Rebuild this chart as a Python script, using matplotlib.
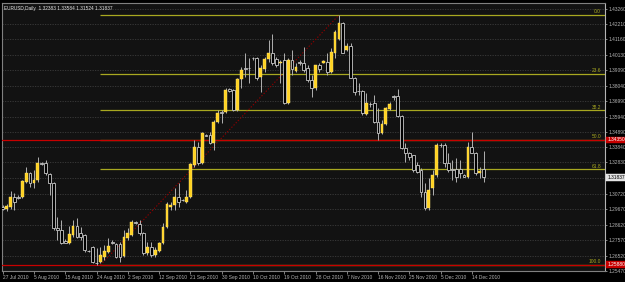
import matplotlib
matplotlib.use("Agg")
import matplotlib.pyplot as plt
import matplotlib.transforms as mtransforms

# ---------------- data ----------------
opens = [1.2981,1.2967,1.2981,1.3049,1.3049,1.3049,1.3150,1.3211,1.3144,1.3164,
         1.3279,1.3279,1.3204,1.3144,1.2839,1.2825,1.2751,1.2737,1.2791,1.2852,
         1.2805,1.2791,1.2683,1.2710,1.2604,1.2608,1.2642,1.2676,1.2744,1.2730,
         1.2730,1.2649,1.2771,1.2791,1.2879,1.2866,1.2805,1.2669,1.2710,1.2656,
         1.2683,1.2737,1.2845,1.2981,1.2994,1.3049,1.3028,1.3015,1.3049,1.3265,
         1.3387,1.3279,1.3469,1.3469,1.3415,1.3557,1.3624,1.3624,1.3780,1.3774,
         1.3638,1.3848,1.3923,1.3923,1.3991,1.3991,1.3862,1.3916,1.3984,1.4024,
         1.3984,1.3957,1.3977,1.3685,1.3977,1.3902,1.3963,1.3957,1.3923,1.3841,
         1.3787,1.3943,1.3957,1.3963,1.3896,1.4024,1.4119,1.4228,1.4045,1.4072,
         1.3855,1.3767,1.3767,1.3611,1.3679,1.3685,1.3557,1.3482,1.3543,1.3645,
         1.3733,1.3733,1.3597,1.3381,1.3347,1.3333,1.3265,1.3232,1.3083,1.2974,
         1.3110,1.3198,1.3401,1.3401,1.3279,1.3238,1.3238,1.3238,1.3198,1.3184,
         1.3387,1.3347,1.3211,1.32383]
highs = [1.2994,1.3001,1.3089,1.3076,1.3062,1.3164,1.3252,1.3218,1.3232,1.3320,
         1.3286,1.3299,1.3211,1.3150,1.2913,1.2893,1.2764,1.2852,1.2893,1.2906,
         1.2845,1.2798,1.2690,1.2715,1.2703,1.2710,1.2724,1.2771,1.2757,1.2737,
         1.2744,1.2825,1.2839,1.2893,1.2886,1.2893,1.2810,1.2744,1.2744,1.2710,
         1.2744,1.2873,1.3015,1.3015,1.3110,1.3144,1.3035,1.3096,1.3279,1.3435,
         1.3421,1.3486,1.3475,1.3489,1.3570,1.3638,1.3638,1.3787,1.3785,1.3780,
         1.3855,1.3930,1.4024,1.3991,1.3997,1.3997,1.3943,1.3997,1.4113,1.4153,
         1.3997,1.3977,1.4024,1.3991,1.4045,1.3957,1.3977,1.4065,1.3943,1.3875,
         1.3943,1.3957,1.3977,1.4024,1.4058,1.4180,1.4282,1.4235,1.4092,1.4092,
         1.3862,1.3821,1.3774,1.3753,1.3692,1.3740,1.3652,1.3570,1.3658,1.3692,
         1.3740,1.3780,1.3604,1.3415,1.3354,1.3336,1.3286,1.3245,1.3144,1.3177,
         1.3232,1.3415,1.3415,1.3415,1.3347,1.3299,1.3313,1.3299,1.3204,1.3421,
         1.3489,1.3354,1.3252,1.33584]
lows = [1.2961,1.2954,1.2967,1.2961,1.3035,1.3042,1.3144,1.3116,1.3110,1.3150,
        1.3265,1.3198,1.3062,1.2825,1.2757,1.2730,1.2737,1.2730,1.2778,1.2771,
        1.2757,1.2676,1.2676,1.2602,1.2588,1.2602,1.2622,1.2669,1.2730,1.2635,
        1.2608,1.2642,1.2757,1.2784,1.2866,1.2791,1.2656,1.2656,1.2642,1.2642,
        1.2676,1.2733,1.2839,1.2961,1.2961,1.2981,1.3022,1.3008,1.3042,1.3252,
        1.3265,1.3275,1.3460,1.3410,1.3367,1.3550,1.3550,1.3618,1.3760,1.3631,
        1.3631,1.3787,1.3862,1.3821,1.3977,1.3841,1.3760,1.3896,1.3963,1.3943,
        1.3930,1.3821,1.3680,1.3680,1.3875,1.3896,1.3943,1.3896,1.3828,1.3726,
        1.3774,1.3896,1.3955,1.3875,1.3889,1.3991,1.4113,1.4024,1.4038,1.3855,
        1.3740,1.3740,1.3604,1.3604,1.3658,1.3550,1.3435,1.3478,1.3536,1.3638,
        1.3706,1.3591,1.3374,1.3286,1.3299,1.3218,1.3211,1.3049,1.2961,1.2961,
        1.3062,1.3184,1.3387,1.3252,1.3218,1.3164,1.3150,1.3177,1.3184,1.3177,
        1.3347,1.3198,1.3177,1.31524]
closes = [1.2967,1.2988,1.3049,1.3015,1.3042,1.3157,1.3211,1.3144,1.3164,1.3279,
          1.3272,1.3211,1.3144,1.2839,1.2825,1.2737,1.2740,1.2798,1.2852,1.2778,
          1.2778,1.2690,1.2680,1.2608,1.2600,1.2656,1.2683,1.2717,1.2737,1.2642,
          1.2642,1.2778,1.2805,1.2879,1.2873,1.2805,1.2669,1.2710,1.2656,1.2690,
          1.2737,1.2845,1.3001,1.2994,1.3049,1.3015,1.3025,1.3049,1.3272,1.3387,
          1.3279,1.3482,1.3465,1.3415,1.3557,1.3618,1.3616,1.3774,1.3767,1.3638,
          1.3848,1.3909,1.3916,1.3920,1.3988,1.3855,1.3923,1.3984,1.4024,1.3957,
          1.3943,1.3963,1.3685,1.3977,1.3916,1.3930,1.3957,1.3909,1.3841,1.3787,
          1.3943,1.3916,1.3970,1.3896,1.4031,1.4167,1.4228,1.4024,1.4072,1.3858,
          1.3760,1.3764,1.3618,1.3685,1.3676,1.3557,1.3482,1.3543,1.3652,1.3679,
          1.3726,1.3597,1.3381,1.3347,1.3320,1.3232,1.3218,1.3083,1.2974,1.3096,
          1.3198,1.3401,1.3398,1.3279,1.3232,1.3234,1.3184,1.3211,1.3187,1.3387,
          1.3347,1.3211,1.3225,1.31837]

date_labels = ["27 Jul 2010", "5 Aug 2010", "15 Aug 2010", "24 Aug 2010", "2 Sep 2010",
               "12 Sep 2010", "21 Sep 2010", "30 Sep 2010", "10 Oct 2010", "19 Oct 2010",
               "28 Oct 2010", "7 Nov 2010", "16 Nov 2010", "25 Nov 2010", "5 Dec 2010",
               "14 Dec 2010"]
date_bars = [0, 8, 16, 24, 32, 40, 48, 56, 64, 72, 80, 88, 96, 104, 112, 120]

price_ticks = [1.43260, 1.42210, 1.41160, 1.40130, 1.39090, 1.38040, 1.36990, 1.35940,
               1.34890, 1.33840, 1.32830, 1.31790, 1.30720, 1.29670, 1.28620, 1.27570,
               1.26520, 1.25470]
price_tick_labels = ["1.43260", "1.42210", "1.41160", "1.40130", "1.39090", "1.38040",
                     "1.36990", "1.35940", "1.34890", "1.33840", "1.32830", "1.31790",
                     "1.30720", "1.29670", "1.28620", "1.27570", "1.26520", "1.25470"]

fib_levels = [0.0, 23.6, 38.2, 50.0, 61.8, 100.0]
fib_labels = ["0.0", "23.6", "38.2", "50.0", "61.8", "100.0"]
fib_high = 1.4282
fib_low = 1.2588
fib_start_bar = 25
fib_end_bar = 86

red_lines = [1.3435, 1.2588]
red_line_labels = ["1.34350", "1.25880"]
current_price = 1.31837
current_label = "1.31837"
title = "EURUSD,Daily  1.32383 1.33584 1.31524 1.31837"

# ---------------- style ----------------
plt.rcParams["font.family"] = ["Liberation Sans", "DejaVu Sans"]
FS_Y = 3.5
FS_X = 3.5
FS_T = 3.4
BG = "#121212"
AXC = "#B4B4B4"
BULL = "#FFD21F"
BEAR_EDGE = "#C8C8C8"
WICK = "#B0B0B0"
FIB = "#A8A820"
RED = "#C80000"

W, H = 625, 282
fig = plt.figure(figsize=(W / 100, H / 100), dpi=100, facecolor="#000000")
left_px, right_px, top_px, bot_px = 2, 605, 3, 271
ax = fig.add_axes([left_px / W, 1 - bot_px / H, (right_px - left_px) / W, (bot_px - top_px) / H])
ax.set_facecolor(BG)

px_per_bar = 3.91
x0_px = 2.7
ax.set_xlim((left_px - x0_px) / px_per_bar, (right_px - x0_px) / px_per_bar)
# price scale: fib high at y=15px, fib low at y=265px
ppp = (fib_high - fib_low) / 250.0
ax.set_ylim(fib_high - (bot_px - 15) * ppp, fib_high + (15 - top_px) * ppp)

# grid
for p in price_ticks:
    ax.axhline(p, color="#3C3C3C", lw=0.6, ls=(0, (1.5, 1.5)), zorder=1)

# fib levels
xmax = (right_px - x0_px) / px_per_bar
for lv, lab in zip(fib_levels, fib_labels):
    p = fib_high - (fib_high - fib_low) * lv / 100.0
    ax.plot([fib_start_bar, xmax], [p, p], color=FIB, lw=0.9, zorder=2, solid_capstyle="butt")
    ax.text(xmax - 1.0, p + 0.6 * ppp, lab, color=FIB, fontsize=FS_Y,
            ha="right", va="bottom", zorder=6)
# fib trend line
ax.plot([fib_start_bar, fib_end_bar], [fib_low, fib_high], color="#8C0000", lw=0.8,
        ls=(0, (1.2, 1.6)), zorder=2)

# red horizontal lines
for p in red_lines:
    ax.axhline(p, color=RED, lw=0.9, zorder=3)

# candles
for i, (o, h, l, c) in enumerate(zip(opens, highs, lows, closes)):
    ax.plot([i, i], [l, h], color=WICK, lw=0.7, zorder=4, solid_capstyle="butt")
    bottom = min(o, c)
    height = max(abs(c - o), 0.00012)
    if c >= o:
        ax.bar(i, height, bottom=bottom, width=0.72, color=BULL, edgecolor="#FFE680",
               linewidth=0.3, zorder=5)
    else:
        ax.bar(i, height, bottom=bottom, width=0.72, color="#000000", edgecolor=BEAR_EDGE,
               linewidth=0.6, zorder=5)

# axes decoration
for s in ["top", "left", "bottom"]:
    ax.spines[s].set_color("#808080")
    ax.spines[s].set_linewidth(0.8)
ax.spines["right"].set_color(AXC)
ax.spines["right"].set_linewidth(0.8)

ax.yaxis.tick_right()
ax.set_yticks(price_ticks)
ax.set_yticklabels(price_tick_labels)
ax.tick_params(axis="y", direction="out", length=1.5, width=0.5, color=AXC,
               labelcolor=AXC, labelsize=FS_Y, pad=1.0)
ax.set_xticks(date_bars)
ax.set_xticklabels(date_labels, ha="left")
ax.tick_params(axis="x", direction="out", length=2.5, width=0.5, color=AXC,
               labelcolor=AXC, labelsize=FS_X, pad=0.2)

trans = mtransforms.blended_transform_factory(ax.transAxes, ax.transData)
for p, lab in zip(red_lines, red_line_labels):
    ax.text(1.0035, p, lab, transform=trans, fontsize=FS_Y, color="#FFFFFF", ha="left",
            va="center", zorder=10, clip_on=False,
            bbox=dict(boxstyle="square,pad=0.2", fc=RED, ec=RED, lw=0.3))
ax.text(1.0035, current_price, current_label, transform=trans, fontsize=FS_Y, color="#000000",
        ha="left", va="center", zorder=10, clip_on=False,
        bbox=dict(boxstyle="square,pad=0.2", fc="#E0E0E0", ec="#FFFFFF", lw=0.3))

ax.text(0.004, 0.988, title, transform=ax.transAxes, fontsize=FS_T, color="#E6E6E6",
        ha="left", va="top", zorder=10)

fig.savefig("out.png", dpi=100, facecolor="#000000")
